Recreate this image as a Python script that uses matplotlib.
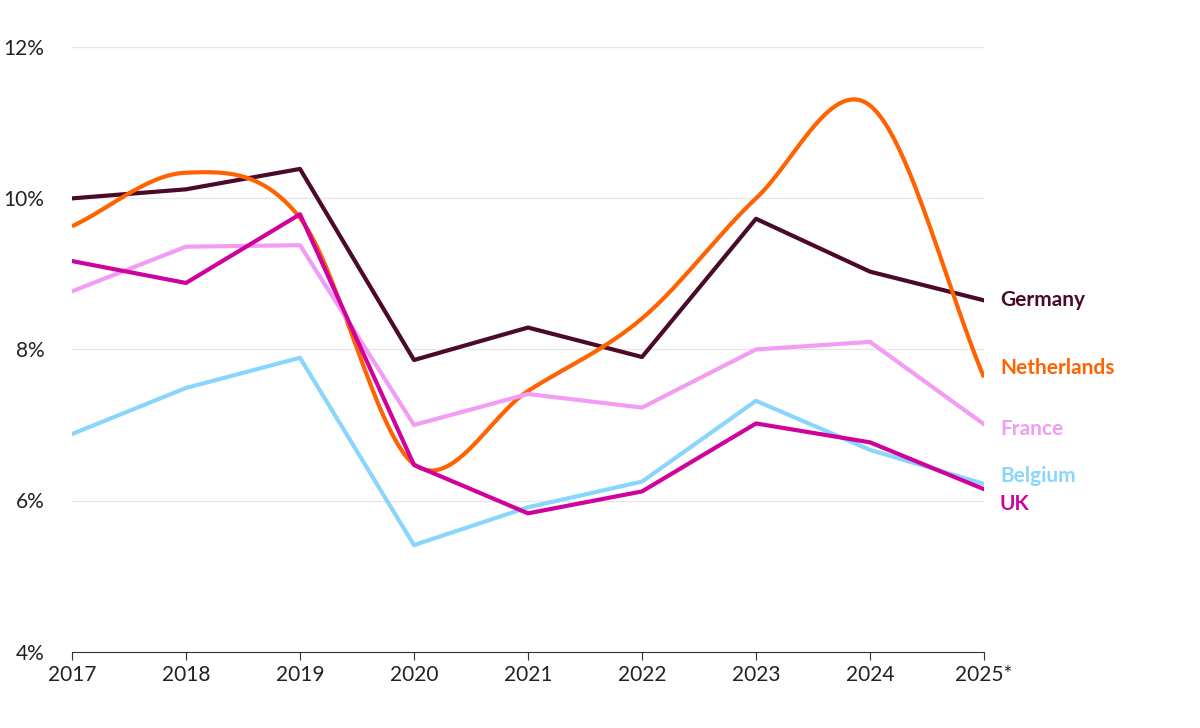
import numpy as np
import matplotlib.pyplot as plt

years = ["2017", "2018", "2019", "2020", "2021", "2022", "2023", "2024", "2025*"]
germany = [10.0, 10.12, 10.39, 7.86, 8.29, 7.90, 9.73, 9.03, 8.65]
netherlands = [9.63, 10.34, 9.74, 6.48, 7.45, 8.41, 10.0, 11.23, 7.63]
france = [8.77, 9.36, 9.38, 7.00, 7.41, 7.23, 8.00, 8.10, 7.01]
belgium = [6.88, 7.49, 7.89, 5.41, 5.91, 6.25, 7.32, 6.67, 6.22]
uk = [9.17, 8.88, 9.79, 6.47, 5.83, 6.12, 7.02, 6.77, 6.15]


def smooth(y, n=30):
    # Catmull-Rom curve through the points (drawing style only)
    y = np.asarray(y, float)
    x = np.arange(len(y), dtype=float)
    p = np.concatenate([[2 * y[0] - y[1]], y, [2 * y[-1] - y[-2]]])
    xs, ys = [], []
    t = np.linspace(0, 1, n, endpoint=False)
    for i in range(len(y) - 1):
        p0, p1, p2, p3 = p[i], p[i + 1], p[i + 2], p[i + 3]
        seg = 0.5 * (2 * p1 + (-p0 + p2) * t + (2 * p0 - 5 * p1 + 4 * p2 - p3) * t**2
                     + (-p0 + 3 * p1 - 3 * p2 + p3) * t**3)
        xs.extend(x[i] + t)
        ys.extend(seg)
    xs.append(x[-1])
    ys.append(y[-1])
    return np.array(xs), np.array(ys)


plt.rcParams['font.family'] = ['Lato', 'DejaVu Sans']
fig, ax = plt.subplots(figsize=(12, 7.28), dpi=100)
fig.subplots_adjust(left=0.06, right=0.82, top=0.935, bottom=0.105)

x = np.arange(len(years))
series = [
    ("Germany", germany, "#4b0a2a", False, 8.65),
    ("Netherlands", netherlands, "#ff6200", True, 7.75),
    ("France", france, "#f39cf5", False, 6.95),
    ("Belgium", belgium, "#89d6fd", False, 6.33),
    ("UK", uk, "#d0029c", False, 5.96),
]
for name, vals, col, sm, ly in series:
    if sm:
        xs, ys = smooth(vals)
        ax.plot(xs, ys, color=col, lw=3, solid_capstyle='butt')
    else:
        ax.plot(x, vals, color=col, lw=3)
    ax.text(len(years) - 1 + 0.14, ly, name, color=col, fontsize=15,
            fontweight='bold', va='center', ha='left', clip_on=False)

ax.set_xlim(0, len(years) - 1)
ax.set_ylim(4, 12)
ax.set_yticks([4, 6, 8, 10, 12])
ax.set_yticklabels([f"{v}%" for v in [4, 6, 8, 10, 12]])
ax.set_xticks(x)
ax.set_xticklabels(years)
ax.grid(axis='y', color='#e6e6e6', lw=1)
ax.set_axisbelow(True)
for s in ['top', 'right', 'left']:
    ax.spines[s].set_visible(False)
ax.spines['bottom'].set_color('#333333')
ax.tick_params(axis='y', length=0, labelsize=15, pad=20, labelcolor='#222222')
ax.tick_params(axis='x', length=6, labelsize=15, color='#333333', labelcolor='#222222')

fig.savefig("out.png")
